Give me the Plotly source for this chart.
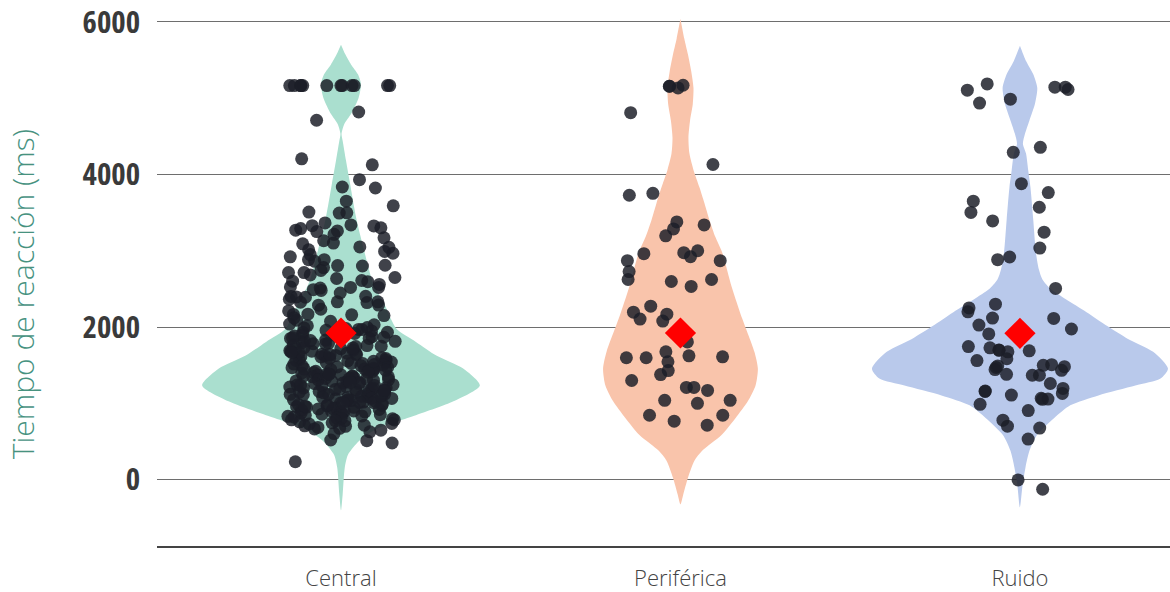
import numpy as np
import plotly.graph_objects as go

# ---------------- data ----------------
groups = ["Central", "Periférica", "Ruido"]
group_pos = [0, 1, 2]

central_rt = [
    5165, 5165, 5165, 5165, 5165, 5165, 5165, 5165, 5165, 5165, 5165, 5165,
    4818, 4710, 4204, 4126, 3931, 3835, 3822, 3649, 3588, 3506, 3497, 3493,
    3364, 3338, 3329, 3325, 3300, 3290, 3260, 3251, 3270, 3169, 3100, 3091,
    3050, 3013, 2991, 2950, 2920, 2883, 2883, 2805, 2810, 2800, 2779, 2714,
    2714, 2649, 2636, 2610, 2601, 2525, 2519, 2519, 2510, 2480, 2395, 2390,
    2364, 2330, 2330, 2325, 2320, 2169, 2165, 2160, 2150, 2039, 2030, 2017,
    2089, 2211, 2287, 2402, 2446, 2558, 2683, 2742, 2861, 2967, 3044, 3132,
    3215, 2233, 2595, 2401, 2120, 2075, 2490, 2288,
    1994, 1981, 1968, 1966, 1949, 1931, 1928, 1915, 1897, 1893,
    1874, 1866, 1851, 1850, 1829, 1817, 1812, 1794, 1781, 1779,
    1763, 1748, 1745, 1730, 1716, 1709, 1697, 1684, 1680, 1662,
    1657, 1649, 1643, 1639, 1624, 1611, 1607, 1590, 1586, 1571, 1562,
    1556, 1541, 1538, 1522, 1514, 1509, 1493, 1488, 1476, 1467,
    1461, 1449, 1446, 1432, 1420, 1418, 1403, 1399, 1387, 1376,
    1372, 1359, 1351, 1347, 1333, 1326, 1318, 1307, 1303, 1289,
    1284, 1271, 1265, 1259, 1244, 1240, 1228, 1219, 1213, 1201,
    1198, 1186, 1177, 1172, 1160, 1155, 1143, 1138, 1126, 1117,
    1113, 1101, 1092, 1087, 1075, 1068, 1059, 1050, 1046, 1033,
    1027, 1016, 1009, 1003, 990, 984, 972, 966, 955, 947,
    938, 931, 919, 912, 900, 896, 894, 881, 873, 862, 851,
    843, 830, 822, 808, 797, 784, 783, 772, 757, 744, 729,
    713, 698, 684, 665, 648, 627, 603, 519, 510, 480, 234,
    1988, 1957, 1922, 1884, 1858, 1823, 1790, 1757, 1726, 1691,
    1666, 1628, 1597, 1566, 1533, 1502, 1471, 1441, 1409, 1380,
    1355, 1321, 1294, 1262, 1235, 1205, 1181, 1148, 1121, 1096,
    1064, 1037, 1012, 979, 951, 926, 889, 858, 835, 801,
    768, 737, 705, 672, 1452, 1311, 1187, 1079, 962, 1523,
    1640, 1236, 1118, 1382, 1274, 1006, 1167, 1433, 1348, 1550,
]

periferica_rt = [
    5134, 5169, 5156, 5156, 4809, 4130, 3753, 3727, 3377, 3338, 3286, 3195,
    3000, 2961, 2870, 2922, 2974, 2870, 2597, 2623, 2623, 2727, 2532, 2273,
    2195, 2104, 2169, 2078, 1805, 1610, 1675, 1597, 1623, 1597, 1545, 1377,
    1429, 1299, 1208, 1208, 1169, 1039, 1039, 1000, 766, 844, 844, 714,
]

ruido_rt = [
    5113, 5143, 5143, 4935, 5104, 5186, 4987, 4355, 4290, 3879, 3762, 3650,
    3570, 3502, 3390, 3243, 3035, 2918, 2883, 2506, 2299, 2250, 2117, 2199,
    2113, 2026, 1974, 1909, 1700, 1688, 1695, 1584, 1560, 1675, 1744, 1727,
    1480, 1470, 1442, 1368, 1433, 1490, 1380, 1498, 1506, 1368, 1156, 1160,
    1056, 1052, 1195, 1260, 1108, 987, 1130, 1065, 905, 675, 701, 779, 532,
    -4, -126,
]

# group means (red diamonds)
mean_rt = [1922, 1922, 1918]

# density profiles of the violins (relative width at each reaction time)
central_dens_ms = [-403, -195, 156, 325, 506, 675, 844, 1026, 1234, 1455, 1623,
                   1805, 1974, 2104, 2273, 2584, 3013, 3442, 3883, 4182, 4442,
                   4532, 4662, 4792, 5000, 5182, 5312, 5442, 5571, 5701]
central_dens = [0, .012, .027, .05, .13, .27, .54, .81, 1.0, .88, .69,
                .54, .40, .36, .32, .23, .165, .108, .065, .036, .012,
                .004, .024, .072, .126, .144, .122, .072, .032, 0]

periferica_dens_ms = [-325, -195, 26, 247, 377, 584, 805, 1026, 1234, 1455,
                      1675, 2104, 2532, 2974, 3182, 3403, 3623, 3831, 4052,
                      4273, 4481, 4701, 4922, 5134, 5351, 5571, 5783, 6040]
periferica_dens = [0, .036, .097, .18, .28, .53, .71, .87, .97, 1.0,
                   .955, .80, .66, .54, .45, .374, .31, .245, .17,
                   .116, .103, .123, .159, .168, .139, .097, .049, 0]

ruido_dens_ms = [-364, -65, 156, 377, 584, 805, 974, 1104, 1234, 1325, 1455,
                 1675, 1844, 2013, 2195, 2364, 2494, 2623, 2753, 2974, 3403,
                 3831, 4052, 4273, 4403, 4532, 4701, 4922, 5134, 5312, 5480, 5688]
ruido_dens = [0, .018, .037, .064, .115, .23, .34, .53, .78, .95, 1.0,
              .90, .73, .59, .45, .31, .21, .152, .128, .108, .09,
              .071, .056, .041, .02, .034, .063, .101, .117, .09, .043, 0]

# ---------------- style ----------------
fill_colors = ["#aadfcf", "#f9c4ab", "#b9c9eb"]
violin_half_width = [0.409, 0.228, 0.436]   # x-axis units at the widest point
jitter_half_width = 0.16
point_color = "rgba(27,30,39,0.84)"

values = [central_rt, periferica_rt, ruido_rt]
dens_ms = [central_dens_ms, periferica_dens_ms, ruido_dens_ms]
dens = [central_dens, periferica_dens, ruido_dens]

fig = go.Figure()

# violins
for pos, ms, d, w, c in zip(group_pos, dens_ms, dens, violin_half_width, fill_colors):
    xs = [pos + v * w for v in d] + [pos - v * w for v in reversed(d)]
    ys = list(ms) + list(reversed(ms))
    fig.add_trace(go.Scatter(
        x=xs, y=ys, mode="lines", fill="toself", fillcolor=c,
        line=dict(width=0, shape="spline", smoothing=0.7, color=c),
        hoverinfo="skip", showlegend=False))

# jittered points
rng = np.random.default_rng(11)
for pos, vals in zip(group_pos, values):
    jit = rng.uniform(-jitter_half_width, jitter_half_width, len(vals))
    fig.add_trace(go.Scatter(
        x=pos + jit, y=vals, mode="markers",
        marker=dict(size=13, color=point_color, line=dict(width=0)),
        showlegend=False))

# means
fig.add_trace(go.Scatter(
    x=group_pos, y=mean_rt, mode="markers",
    marker=dict(symbol="diamond", size=24, color="#ff0000", line=dict(width=0)),
    showlegend=False))

fig.update_layout(
    width=1170, height=592,
    margin=dict(l=157, r=0, t=0, b=43),
    plot_bgcolor="white", paper_bgcolor="white",
    showlegend=False,
    xaxis=dict(
        range=[-0.542, 2.442], tickvals=group_pos, ticktext=groups,
        showgrid=False, zeroline=False, showline=True,
        linecolor="#444444", linewidth=1.5, ticks="",
        ticklabelstandoff=12,
        tickfont=dict(family="Open Sans", size=22, color="#444444", weight=300),
    ),
    yaxis=dict(
        range=[-870, 6260], tickvals=[0, 2000, 4000, 6000],
        showgrid=True, gridcolor="#6e6e6e", gridwidth=1,
        zeroline=False, showline=False, ticks="",
        ticklabelstandoff=16, ticklabeloverflow="allow",
        tickfont=dict(family="Open Sans Condensed, Roboto Condensed, sans-serif",
                      size=31, color="#3a3a3a", weight="bold"),
    ),
    annotations=[dict(
        text="Tiempo de reacción (ms)", textangle=-90,
        xref="paper", yref="paper", x=-0.1333, y=0.4627,
        xanchor="center", yanchor="middle", showarrow=False,
        font=dict(family="Open Sans", size=30, color="#47927f", weight=300),
    )],
)

fig.write_html("out.html", config={"displayModeBar": False},
               post_script="document.body.style.margin='0px';document.body.style.overflow='hidden';")
